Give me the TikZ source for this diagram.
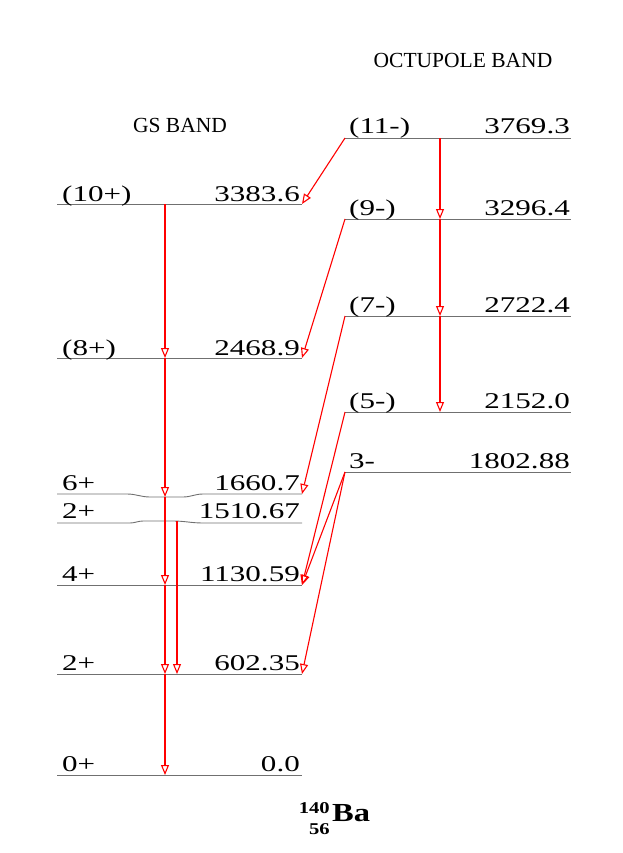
\documentclass[tikz,border=0pt]{standalone}
\usepackage{fontspec}
\setmainfont{Liberation Serif}
\newfontfamily\lvlfont[FakeStretch=1.38]{Liberation Serif}
\newfontfamily\nuclfont[FakeStretch=1.25]{Liberation Serif}
\usetikzlibrary{arrows.meta,calc}
\definecolor{LevelGray}{HTML}{707070}

\begin{document}
\begin{tikzpicture}[
	x=1pt, y=-1pt,
	level/.style={draw=LevelGray, line width=0.9pt},
	spin/.style={anchor=base west, inner sep=0pt, font=\lvlfont\fontsize{22.5}{24}\selectfont},
	energy/.style={anchor=base east, inner sep=0pt, font=\lvlfont\fontsize{22.5}{24}\selectfont},
	band/.style={anchor=base, inner sep=0pt, font=\fontsize{21.5}{24}\selectfont},
	gamma/.style={-{Triangle[open, length=10pt, width=8pt]}, red, line width=1.1pt}
]
\useasboundingbox (0,0) rectangle (622,853);

% band titles
\node[band] (gsband) at (180,133) {GS BAND};
\node[band] (octband) at (463,68) {OCTUPOLE BAND};

% ground-state band levels
\draw[level] (57,204) coordinate (g10w) -- (302,204) coordinate (g10e);
\draw[level] (57,358) coordinate (g8w) -- (302,358) coordinate (g8e);
\draw[level] (57,494) coordinate (g6w) -- (127,494) to[out=0, in=180] (150,497)
	-- (183,497) to[out=0, in=180] (203,494) -- (302,494) coordinate (g6e);
\draw[level] (57,523) coordinate (g2bw) -- (130,523) to[out=0, in=180] (143,521)
	-- (173,521) to[out=0, in=180] (203,523) -- (302,523) coordinate (g2be);
\draw[level] (57,585) coordinate (g4w) -- (302,585) coordinate (g4e);
\draw[level] (57,674) coordinate (g2w) -- (302,674) coordinate (g2e);
\draw[level] (57,775) coordinate (g0w) -- (302,775) coordinate (g0e);

\node[spin] (s10) at (62,201) {(10+)};
\node[energy] (e10) at (300,201) {3383.6};
\node[spin] (s8) at (62,355) {(8+)};
\node[energy] (e8) at (300,355) {2468.9};
\node[spin] (s6) at (62,490) {6+};
\node[energy] (e6) at (300,490) {1660.7};
\node[spin] (s2b) at (62,518) {2+};
\node[energy] (e2b) at (300,518) {1510.67};
\node[spin] (s4) at (62,581) {4+};
\node[energy] (e4) at (300,581) {1130.59};
\node[spin] (s2) at (62,670) {2+};
\node[energy] (e2) at (300,670) {602.35};
\node[spin] (s0) at (62,771) {0+};
\node[energy] (e0) at (300,771) {0.0};

% octupole band levels
\draw[level] (345,138) coordinate (o11w) -- (571,138) coordinate (o11e);
\draw[level] (345,219) coordinate (o9w) -- (571,219) coordinate (o9e);
\draw[level] (345,316) coordinate (o7w) -- (571,316) coordinate (o7e);
\draw[level] (345,412) coordinate (o5w) -- (571,412) coordinate (o5e);
\draw[level] (345,472) coordinate (o3w) -- (571,472) coordinate (o3e);

\node[spin] (s11) at (349,134) {(11-)};
\node[energy] (e11) at (570,134) {3769.3};
\node[spin] (s9) at (349,215) {(9-)};
\node[energy] (e9) at (570,215) {3296.4};
\node[spin] (s7) at (349,312) {(7-)};
\node[energy] (e7) at (570,312) {2722.4};
\node[spin] (s5) at (349,408) {(5-)};
\node[energy] (e5) at (570,408) {2152.0};
\node[spin] (s3) at (349,468) {3-};
\node[energy] (e3) at (570,468) {1802.88};

% cascade points
\coordinate (c10) at (165,204);
\coordinate (c8) at (165,358);
\coordinate (c6) at (165,497);
\coordinate (c4) at (165,585);
\coordinate (c2) at (165,674);
\coordinate (c0) at (165,775);
\coordinate (d2b) at (177,521);
\coordinate (d2) at (177,674);
\coordinate (k11) at (440,138);
\coordinate (k9) at (440,219);
\coordinate (k7) at (440,316);
\coordinate (k5) at (440,412);

% in-band transitions
\draw[gamma] (c10) -- (c8);
\draw[gamma] (c8) -- (c6);
\draw[gamma] (c6) -- (c4);
\draw[gamma] (c4) -- (c2);
\draw[gamma] (c2) -- (c0);
\draw[gamma] (d2b) -- (d2);
\draw[gamma] (k11) -- (k9);
\draw[gamma] (k9) -- (k7);
\draw[gamma] (k7) -- (k5);

% inter-band transitions
\draw[gamma] (o11w) -- (g10e);
\draw[gamma] (o9w) -- (g8e);
\draw[gamma] (o7w) -- (g6e);
\draw[gamma] (o5w) -- (g4e);
\draw[gamma] (o3w) -- (g4e);
\draw[gamma] (o3w) -- (g2e);

% nucleus
\node[anchor=base east, inner sep=0pt, font=\nuclfont\bfseries\fontsize{16.5}{18}\selectfont] (mass) at (330,813) {140};
\node[anchor=base east, inner sep=0pt, font=\nuclfont\bfseries\fontsize{16.5}{18}\selectfont] (charge) at (330,834) {56};
\node[anchor=base west, inner sep=0pt, font=\nuclfont\bfseries\fontsize{26}{28}\selectfont] (elem) at (332,821) {Ba};
\end{tikzpicture}
\end{document}
